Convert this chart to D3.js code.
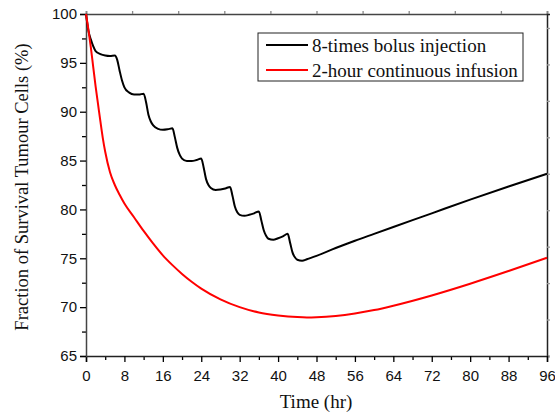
<!DOCTYPE html>
<html>
<head>
<meta charset="utf-8">
<script src="https://cdn.jsdelivr.net/npm/d3@7"></script>
<style>
  body { margin: 0; background: #fff; }
  svg { font-family: "Liberation Serif", "Times New Roman", serif; }
  .tick text { font-size: 15px; fill: #111; }
  .label { font-size: 19px; fill: #111; }
  .legend { font-size: 19px; fill: #111; }
</style>
</head>
<body>
<svg width="555" height="418"></svg>
<script>
// time (hr) / survival (%)
var bolusTime = [0, 0.5, 1, 1.5, 2, 3, 4, 5, 6,
    6.5, 7, 7.5, 8, 9, 10, 11, 12,
    12.5, 13, 13.5, 14, 15, 16, 17, 18,
    18.5, 19, 19.5, 20, 21, 22, 23, 24,
    24.5, 25, 25.5, 26, 27, 28, 29, 30,
    30.5, 31, 31.5, 32, 33, 34, 35, 36,
    36.5, 37, 37.5, 38, 39, 40, 41, 42,
    42.5, 43, 43.5, 44, 45, 46, 48, 52, 56, 60, 64, 72, 80, 88, 96];
var bolusValue = [100, 98.3, 97.4, 96.7, 96.2, 95.9, 95.75, 95.7, 95.75,
    95.3, 94.2, 93.2, 92.5, 91.95, 91.75, 91.75, 91.85,
    91.0, 89.7, 89.0, 88.6, 88.25, 88.15, 88.2, 88.3,
    87.4, 86.3, 85.6, 85.2, 84.95, 84.95, 85.05, 85.2,
    84.3, 83.1, 82.5, 82.2, 82.0, 82.05, 82.15, 82.3,
    81.4, 80.3, 79.7, 79.45, 79.35, 79.45, 79.6, 79.8,
    78.9, 77.9, 77.3, 77.0, 76.9, 77.05, 77.25, 77.5,
    76.6, 75.6, 75.1, 74.85, 74.75, 74.9, 75.25, 76.05, 76.8, 77.5, 78.2, 79.6, 81.0, 82.35, 83.65];

var infusionTime = [0, 0.5, 1, 1.5, 2, 2.5, 3, 3.5, 4, 5, 6, 7, 8, 10, 12, 14, 16, 18, 20, 22, 24,
    28, 32, 36, 40, 44, 46, 48, 52, 56, 60, 64, 72, 80, 88, 96];
var infusionValue = [100, 98.4, 96.6, 94.6, 92.6, 90.8, 89.0, 87.3, 85.9, 83.8, 82.5, 81.5, 80.6, 79.2, 77.8, 76.5, 75.3, 74.3, 73.4, 72.6, 71.9,
    70.8, 70.0, 69.45, 69.15, 68.98, 68.95, 68.97, 69.1, 69.35, 69.7, 70.15, 71.2, 72.4, 73.7, 75.05];

var xTicks = [0, 8, 16, 24, 32, 40, 48, 56, 64, 72, 80, 88, 96];
var yTicks = [65, 70, 75, 80, 85, 90, 95, 100];
var legendNames = ['8-times bolus injection', '2-hour continuous infusion'];
var lineColors = ['#000000', '#ff0000'];

var svg = d3.select('svg');

var timeScale = d3.scaleLinear().domain([0, 96]).range([86, 547]);
var survScale = d3.scaleLinear().domain([65, 100]).range([356, 14]);

// **** frame: top and right axes without labels ****
svg.append('g')
    .attr('transform', 'translate(0,14)')
    .call(d3.axisTop(timeScale).tickValues(d3.range(0, 96.01, 9.6)).tickSize(3).tickFormat(''))
    .call(function(g) { g.select('.domain').attr('stroke', '#444').attr('stroke-width', 1.5); })
    .call(function(g) { g.selectAll('.tick line').attr('stroke', '#888'); });

svg.append('g')
    .attr('transform', 'translate(547,0)')
    .call(d3.axisRight(survScale).tickValues(d3.range(65, 100, 3.73)).tickSize(3).tickFormat(''))
    .call(function(g) { g.select('.domain').attr('stroke', '#222').attr('stroke-width', 1.5); })
    .call(function(g) { g.selectAll('.tick line').attr('stroke', '#999'); });

// **** bottom axis ****
var xAxis = svg.append('g')
    .attr('transform', 'translate(0,356)');
xAxis.call(d3.axisBottom(timeScale).tickValues(d3.range(4, 96, 8)).tickSize(4).tickFormat(''))
    .call(function(g) { g.select('.domain').remove(); });
xAxis.append('g')
    .call(d3.axisBottom(timeScale).tickValues(xTicks).tickSize(6).tickPadding(8).tickFormat(function(d) { return d; }))
    .call(function(g) { g.select('.domain').attr('stroke', '#222').attr('stroke-width', 1.5); });

// **** left axis ****
var yAxis = svg.append('g')
    .attr('transform', 'translate(86,0)');
yAxis.call(d3.axisLeft(survScale).tickValues(d3.range(67.5, 100, 5)).tickSize(4).tickFormat(''))
    .call(function(g) { g.select('.domain').remove(); });
yAxis.append('g')
    .call(d3.axisLeft(survScale).tickValues(yTicks).tickSize(6).tickPadding(3).tickFormat(function(d) { return d; }))
    .call(function(g) { g.select('.domain').attr('stroke', '#444').attr('stroke-width', 1.5); });

svg.selectAll('.tick line').attr('stroke-width', 1.3);

// **** curves ****
var line = d3.line()
    .x(function(d) { return timeScale(d[0]); })
    .y(function(d) { return survScale(d[1]); })
    .curve(d3.curveMonotoneX);

var series = [
    d3.zip(bolusTime, bolusValue),
    d3.zip(infusionTime, infusionValue)
];

svg.selectAll('path.curve')
    .data(series)
    .enter()
    .append('path')
    .attr('class', 'curve')
    .attr('d', line)
    .attr('fill', 'none')
    .attr('stroke', function(d, i) { return lineColors[i]; })
    .attr('stroke-width', 2);

// **** legend ****
var legend = svg.append('g').attr('transform', 'translate(258,33)');
legend.append('rect')
    .attr('width', 265).attr('height', 48)
    .attr('fill', '#fff').attr('stroke', '#222').attr('stroke-width', 1);
var rows = legend.selectAll('g.row')
    .data(legendNames)
    .enter()
    .append('g')
    .attr('class', 'row')
    .attr('transform', function(d, i) { return 'translate(0,' + (12 + i * 25) + ')'; });
rows.append('line')
    .attr('x1', 8).attr('x2', 50)
    .attr('stroke', function(d, i) { return lineColors[i]; })
    .attr('stroke-width', 2);
rows.append('text')
    .attr('class', 'legend')
    .attr('x', 54).attr('y', 6.5)
    .text(function(d) { return d; });

// **** axis titles ****
svg.append('text')
    .attr('class', 'label')
    .attr('text-anchor', 'middle')
    .attr('transform', 'translate(316,408)')
    .text('Time (hr)');

svg.append('text')
    .attr('class', 'label')
    .attr('text-anchor', 'middle')
    .style('font-size', '18.5px')
    .attr('transform', 'translate(28,187) rotate(-90)')
    .text('Fraction of Survival Tumour Cells (%)');
</script>
</body>
</html>
